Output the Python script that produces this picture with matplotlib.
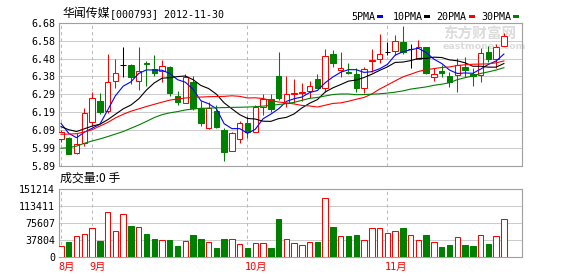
import matplotlib
matplotlib.use('Agg')
import matplotlib.pyplot as plt
import numpy as np
from matplotlib.patches import Rectangle

# ---------------- data ----------------
opens = [6.040, 6.047, 5.962, 6.015, 6.134, 6.248, 6.195, 6.360, 6.447, 6.447,
         6.360, 6.458, 6.423, 6.414, 6.434, 6.276, 6.240, 6.355, 6.208, 6.100,
         6.193, 6.089, 5.972, 6.039, 6.125, 6.079, 6.217, 6.258, 6.386, 6.236,
         6.285, 6.290, 6.303, 6.368, 6.322, 6.506, 6.420, 6.410, 6.396, 6.322,
         6.468, 6.478, 6.520, 6.524, 6.572, 6.535, 6.480, 6.544, 6.382, 6.414,
         6.386, 6.392, 6.437, 6.396, 6.392, 6.517, 6.480, 6.552]
closes = [6.077, 5.958, 6.010, 6.180, 6.263, 6.186, 6.351, 6.404, 6.447, 6.383,
          6.414, 6.452, 6.400, 6.443, 6.290, 6.245, 6.380, 6.208, 6.125, 6.210,
          6.107, 5.969, 6.070, 6.125, 6.079, 6.217, 6.258, 6.203, 6.267, 6.285,
          6.293, 6.300, 6.331, 6.322, 6.498, 6.456, 6.430, 6.400, 6.322, 6.423,
          6.477, 6.506, 6.520, 6.579, 6.517, 6.535, 6.544, 6.401, 6.396, 6.400,
          6.355, 6.447, 6.418, 6.387, 6.515, 6.482, 6.544, 6.608]
highs = [6.090, 6.050, 6.070, 6.210, 6.300, 6.290, 6.510, 6.480, 6.548, 6.450,
         6.548, 6.470, 6.500, 6.474, 6.440, 6.305, 6.395, 6.385, 6.250, 6.245,
         6.226, 6.100, 6.080, 6.138, 6.165, 6.225, 6.285, 6.287, 6.520, 6.386,
         6.370, 6.345, 6.360, 6.396, 6.535, 6.530, 6.517, 6.460, 6.430, 6.437,
         6.535, 6.620, 6.575, 6.610, 6.660, 6.562, 6.587, 6.548, 6.430, 6.447,
         6.410, 6.484, 6.490, 6.428, 6.540, 6.550, 6.560, 6.625]
lows = [6.024, 5.955, 5.955, 6.000, 6.110, 6.175, 6.180, 6.320, 6.380, 6.340,
        6.310, 6.330, 6.386, 6.355, 6.278, 6.227, 6.235, 6.200, 6.110, 6.092,
        6.100, 5.919, 5.970, 6.015, 6.043, 6.075, 6.171, 6.190, 6.255, 6.215,
        6.240, 6.250, 6.265, 6.320, 6.296, 6.437, 6.380, 6.398, 6.300, 6.295,
        6.410, 6.456, 6.500, 6.500, 6.507, 6.432, 6.478, 6.398, 6.360, 6.380,
        6.328, 6.296, 6.380, 6.333, 6.355, 6.465, 6.430, 6.550]
volumes = [24600, 33600, 46200, 50700, 64100, 35800, 99900, 57400, 95400, 69300,
           66400, 51400, 40300, 38000, 38000, 24600, 35800, 49200, 40300, 32800,
           20100, 40300, 40300, 28300, 20100, 30600, 30600, 20100, 85000, 40300,
           30600, 26100, 32800, 33600, 131200, 67100, 46200, 47000, 49200, 37300,
           64100, 64100, 52900, 58200, 64900, 48500, 37300, 49200, 32800, 22400,
           26800, 44000, 26800, 24600, 48500, 29100, 46200, 84200]
ma5 = [6.125, 6.070, 6.046, 6.076, 6.098, 6.120, 6.198, 6.277, 6.330, 6.354,
       6.400, 6.420, 6.419, 6.418, 6.400, 6.366, 6.352, 6.313, 6.250, 6.233,
       6.206, 6.123, 6.096, 6.096, 6.070, 6.092, 6.150, 6.176, 6.205, 6.246,
       6.261, 6.270, 6.295, 6.306, 6.349, 6.381, 6.407, 6.421, 6.421, 6.406,
       6.410, 6.426, 6.450, 6.501, 6.520, 6.531, 6.539, 6.515, 6.479, 6.455,
       6.419, 6.400, 6.403, 6.401, 6.424, 6.450, 6.469, 6.507]
ma10 = [6.107, 6.090, 6.080, 6.095, 6.110, 6.120, 6.145, 6.175, 6.205, 6.226,
        6.260, 6.309, 6.348, 6.374, 6.377, 6.383, 6.386, 6.366, 6.334, 6.317,
        6.286, 6.238, 6.205, 6.173, 6.152, 6.149, 6.137, 6.136, 6.151, 6.158,
        6.177, 6.210, 6.236, 6.256, 6.298, 6.321, 6.339, 6.358, 6.364, 6.378,
        6.396, 6.417, 6.436, 6.461, 6.463, 6.471, 6.483, 6.483, 6.490, 6.488,
        6.475, 6.470, 6.459, 6.440, 6.440, 6.435, 6.435, 6.455]
ma20 = [6.065, 6.066, 6.068, 6.078, 6.090, 6.110, 6.130, 6.155, 6.175, 6.192,
        6.205, 6.218, 6.230, 6.242, 6.253, 6.260, 6.265, 6.268, 6.270, 6.272,
        6.273, 6.274, 6.277, 6.274, 6.265, 6.266, 6.262, 6.251, 6.243, 6.238,
        6.232, 6.224, 6.221, 6.215, 6.225, 6.235, 6.238, 6.247, 6.258, 6.268,
        6.287, 6.314, 6.336, 6.359, 6.381, 6.396, 6.411, 6.421, 6.427, 6.433,
        6.436, 6.444, 6.448, 6.451, 6.452, 6.453, 6.459, 6.469]
ma30 = [5.988, 5.991, 6.000, 6.015, 6.028, 6.039, 6.052, 6.066, 6.080, 6.098,
        6.116, 6.136, 6.157, 6.173, 6.183, 6.190, 6.199, 6.204, 6.208, 6.209,
        6.211, 6.212, 6.213, 6.214, 6.215, 6.217, 6.220, 6.224, 6.229, 6.234,
        6.241, 6.252, 6.263, 6.268, 6.276, 6.284, 6.287, 6.287, 6.283, 6.284,
        6.286, 6.288, 6.292, 6.297, 6.304, 6.314, 6.320, 6.326, 6.335, 6.341,
        6.349, 6.366, 6.377, 6.386, 6.400, 6.409, 6.419, 6.432]
price_tick_labels = ['5.89', '5.99', '6.09', '6.19', '6.29', '6.38', '6.48', '6.58', '6.68']
vol_ticks = [0, 37804, 75607, 113411, 151214]
month_idx = [0, 4, 24, 42]
month_labels = ['8月', '9月', '10月', '11月']
ma_names = ['5PMA', '10PMA', '20PMA', '30PMA']

# ---------------- style ----------------
RED = '#FF0000'
GREEN = '#008000'
BLUE = '#0000FF'
GRID = '#CCCCCC'
FRAME = '#A0A0A0'
MONO = 'DejaVu Sans Mono'
CJK = 'Noto Sans CJK SC'

W, H = 578, 276
fig = plt.figure(figsize=(W / 100, H / 100), dpi=100)
fig.patch.set_facecolor('white')


def fx(px):
    return px / W


def fy(py):
    return 1 - py / H


L, R = 58.7, 522.3
ax = fig.add_axes([fx(L), fy(166), (R - L) / W, (166 - 22.7) / H])
axv = fig.add_axes([fx(L), fy(257), (R - L) / W, (257 - 189.3) / H])

x = np.arange(len(closes))
o = np.array(opens)
c = np.array(closes)
h = np.array(highs)
lo = np.array(lows)
v = np.array(volumes)

lw = 0.75
bw = 0.70
up = c > o
dn = c < o
doji = c == o

# wicks
ax.vlines(x[up], c[up], h[up], color=RED, lw=lw, zorder=3)
ax.vlines(x[up], lo[up], o[up], color=RED, lw=lw, zorder=3)
ax.vlines(x[dn], lo[dn], h[dn], color=GREEN, lw=lw, zorder=3)
ax.vlines(x[doji], lo[doji], h[doji], color='black', lw=lw, zorder=3)
ax.hlines(c[doji], x[doji] - bw / 2, x[doji] + bw / 2, color='black', lw=lw, zorder=3)
# bodies
ax.bar(x[up], c[up] - o[up], bottom=o[up], width=bw, facecolor='white',
       edgecolor=RED, lw=lw, zorder=3)
ax.bar(x[dn], o[dn] - c[dn], bottom=c[dn], width=bw, facecolor=GREEN,
       edgecolor=GREEN, lw=lw, zorder=3)

# moving averages
for arr, col in zip([ma5, ma10, ma20, ma30], [BLUE, 'black', RED, GREEN]):
    ax.plot(x, arr, color=col, lw=0.8, zorder=4)

# volume
vup = c >= o
axv.bar(x[vup], v[vup], width=bw, facecolor='white', edgecolor=RED, lw=lw, zorder=3)
axv.bar(x[~vup], v[~vup], width=bw, facecolor=GREEN, edgecolor=GREEN, lw=lw, zorder=3)

xmin = -0.296
xmax = 59.37
for a in (ax, axv):
    a.set_xlim(xmin, xmax)
    a.set_xticks([])
    for s in a.spines.values():
        s.set_color(FRAME)
        s.set_linewidth(0.8)
    a.tick_params(axis='y', length=0, pad=2.7, labelsize=7.2)
    for t in a.get_yticklabels():
        t.set_fontfamily(MONO)
    for m in month_idx:
        a.axvline(m, color='#BBBBBB', lw=0.75, ls=(0, (3, 3)), zorder=1)
    a.set_axisbelow(True)
    a.yaxis.grid(True, color=GRID, lw=0.75)

ax.set_ylim(5.89, 6.68)
ax.set_yticks(np.linspace(5.89, 6.68, len(price_tick_labels)))
ax.set_yticklabels(price_tick_labels, fontfamily=MONO, fontsize=7.2)
axv.set_ylim(0, vol_ticks[-1])
axv.set_yticks(vol_ticks)
axv.set_yticklabels([str(t) for t in vol_ticks], fontfamily=MONO, fontsize=7.2)

# month labels
for m, lab in zip(month_idx, month_labels):
    axv.annotate(lab, xy=(m, 0), xycoords=('data', 'axes fraction'),
                 xytext=(-2.5, -13), textcoords='offset pixels',
                 ha='left', va='baseline', color=RED, fontsize=7.4,
                 family=[MONO, CJK])

# title
fig.text(fx(62), fy(17), '华闻传媒', family=CJK, fontsize=8.6,
         va='baseline', ha='left', color='black')
fig.text(fx(110), fy(17.3), '[000793] 2012-11-30', family=MONO, fontsize=7.2,
         va='baseline', ha='left', color='black')

# legend
leg_x = [351.7, 392.3, 436.7, 481.7]
mark_x = [376.7, 424.0, 468.7, 513.3]
for name, tx, mx, col in zip(ma_names, leg_x, mark_x, [BLUE, 'black', RED, GREEN]):
    fig.text(fx(tx), fy(19.7), name, family=MONO, fontsize=7.2,
             va='baseline', ha='left', color='black')
    fig.patches.append(Rectangle((fx(mx), fy(18)), 6 / W, 3 / H,
                                 transform=fig.transFigure, facecolor=col,
                                 edgecolor='none'))

# volume caption
fig.text(fx(60), fy(182), '成交量:0 手', family=[CJK], fontsize=8.6,
         va='baseline', ha='left', color='black')

# watermark
ax.text(fx(443), fy(39), '东方财富网', transform=fig.transFigure, family=CJK,
        fontsize=10.5, fontweight='bold', color='#DCDCDC', va='baseline',
        ha='left', zorder=0.6)
ax.text(fx(443), fy(49), 'eastmoney.com', transform=fig.transFigure,
        family='DejaVu Sans', fontsize=6.8, fontweight='bold', color='#DCDCDC',
        va='baseline', ha='left', zorder=0.6)

fig.savefig('out.png', dpi=100, facecolor='white')
